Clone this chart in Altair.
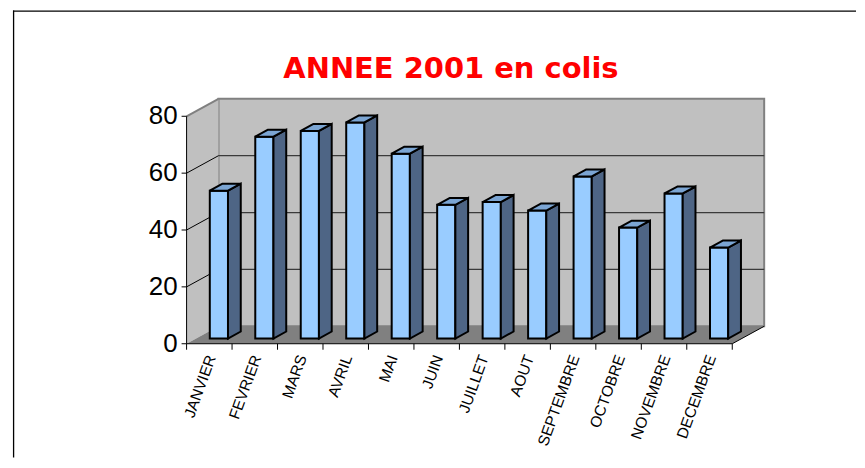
import altair as alt
import pandas as pd

# ---------------- data ----------------
months = ["JANVIER", "FEVRIER", "MARS", "AVRIL", "MAI", "JUIN", "JUILLET",
          "AOUT", "SEPTEMBRE", "OCTOBRE", "NOVEMBRE", "DECEMBRE"]
values = [52, 71, 73, 76, 65, 47, 48, 45, 57, 39, 51, 32]
y_ticks = [0, 20, 40, 60, 80]
title_text = "ANNEE 2001 en colis"

# ---------------- layout (pixel anchors -> data units) ----------------
PX_CAT = 45.58          # px per category
PX_UNIT = 2.85          # px per value unit
ORIGIN_X, ORIGIN_Y = 186, 343   # page px of front-axis origin
VIEW_LEFT, VIEW_TOP = 12, 9     # page px of view corner
W, H = 845, 448
DX = 32 / PX_CAT        # depth shift in x units
DY = 17.5 / PX_UNIT     # depth shift in y units
D0, D1 = 0.3, 0.7       # bar depth range
B0, B1 = 0.3, 0.7       # bar extent within category
NCAT = len(months)
YMAX = max(y_ticks)

xs = alt.Scale(domain=[(VIEW_LEFT - ORIGIN_X) / PX_CAT, (VIEW_LEFT + W - ORIGIN_X) / PX_CAT],
               zero=False, nice=False)
ys = alt.Scale(domain=[(ORIGIN_Y - VIEW_TOP - H) / PX_UNIT, (ORIGIN_Y - VIEW_TOP) / PX_UNIT],
               zero=False, nice=False)


def X(f):
    return alt.X(f, type="quantitative", scale=xs, axis=None)


def X2(f):
    return alt.X2(f)


def Y(f):
    return alt.Y(f, type="quantitative", scale=ys, axis=None, stack=None)


def Y2(f):
    return alt.Y2(f)


# ---------------- derived tables ----------------
bars = pd.DataFrame({"month": months, "value": values, "i": range(NCAT)})

front = bars.assign(
    x1=bars.i + B0 + D0 * DX, x2=bars.i + B1 + D0 * DX,
    y1=D0 * DY, y2=bars.value + D0 * DY)

side_rows = []
top_rows = []
for m, v, i in zip(months, values, range(NCAT)):
    for d in (D0, D1):
        side_rows.append({"month": m, "x": i + B1 + d * DX, "ylo": d * DY, "yhi": v + d * DY})
        top_rows.append({"month": m, "y": v + d * DY, "xlo": i + B0 + d * DX, "xhi": i + B1 + d * DX})
side = pd.DataFrame(side_rows)
top = pd.DataFrame(top_rows)

wall = pd.DataFrame({"x1": [DX], "x2": [NCAT + DX], "y1": [DY], "y2": [YMAX + DY]})
left_wall = pd.DataFrame({"x": [0, DX], "ylo": [0, DY], "yhi": [YMAX, YMAX + DY], "k": ["a", "a"]})
floor = pd.DataFrame({"y": [0, DY], "xlo": [0, DX], "xhi": [NCAT, NCAT + DX], "k": ["a", "a"]})

ticks = pd.DataFrame({"v": y_ticks})
grid = ticks.assign(yb=ticks.v + DY, xa=DX, xb=NCAT + DX, x0=0.0)
grid_in = grid[(grid.v > 0) & (grid.v < YMAX)]
diag = grid[grid.v > 0]

xaxis = pd.DataFrame({"x1": [0.0], "x2": [float(NCAT)], "y": [0.0]})
floor_edge = pd.DataFrame({"x1": [float(NCAT)], "x2": [NCAT + DX], "y1": [0.0], "y2": [DY]})
yaxis = pd.DataFrame({"x": [0.0], "y1": [0.0], "y2": [float(YMAX)]})
xticks = pd.DataFrame({"x": [float(k) for k in range(NCAT + 1)], "y": 0.0})
labels = bars.assign(xc=bars.i + 0.5, y=0.0)

# ---------------- layers ----------------
FONT = "Liberation Sans"

back = alt.Chart(wall).mark_rect(fill="#C0C0C0", stroke="#808080", strokeWidth=2).encode(
    x=X("x1"), x2=X2("x2"), y=Y("y1"), y2=Y2("y2"))
lwall = alt.Chart(left_wall).mark_area(orient="vertical", fill="#C0C0C0").encode(
    x=X("x"), y=Y("yhi"), y2=Y2("ylo"), detail="k:N")
flr = alt.Chart(floor).mark_area(orient="horizontal", fill="#808080").encode(
    y=Y("y"), x=X("xlo"), x2=X2("xhi"), detail="k:N")
lwall_top = alt.Chart(diag[diag.v == YMAX]).mark_rule(color="#808080", strokeWidth=2).encode(
    x=X("x0"), x2=X2("xa"), y=Y("v"), y2=Y2("yb"))
grid_back = alt.Chart(grid_in).mark_rule(color="#3a3a3a", strokeWidth=1.2).encode(
    x=X("xa"), x2=X2("xb"), y=Y("yb"))
grid_diag = alt.Chart(diag[diag.v < YMAX]).mark_rule(color="#000000", strokeWidth=1).encode(
    x=X("x0"), x2=X2("xa"), y=Y("v"), y2=Y2("yb"))

front_face = alt.Chart(front).mark_rect(fill="#99CCFF", stroke="black", strokeWidth=2).encode(
    x=X("x1"), x2=X2("x2"), y=Y("y1"), y2=Y2("y2"))
side_face = alt.Chart(side).mark_area(orient="vertical", fill="#4E6585", stroke="black",
                                      strokeWidth=2, strokeJoin="miter").encode(
    x=X("x"), y=Y("yhi"), y2=Y2("ylo"), detail="month:N")
top_face = alt.Chart(top).mark_area(orient="horizontal", fill="#7BA5D3", stroke="black",
                                    strokeWidth=2, strokeJoin="miter").encode(
    y=Y("y"), x=X("xlo"), x2=X2("xhi"), detail="month:N")

xline = alt.Chart(xaxis).mark_rule(color="black", strokeWidth=1).encode(
    x=X("x1"), x2=X2("x2"), y=Y("y"))
fedge = alt.Chart(floor_edge).mark_rule(color="black", strokeWidth=1).encode(
    x=X("x1"), x2=X2("x2"), y=Y("y1"), y2=Y2("y2"))
yline = alt.Chart(yaxis).mark_rule(color="black", strokeWidth=1).encode(
    x=X("x"), y=Y("y1"), y2=Y2("y2"))
xtick = alt.Chart(xticks).mark_rule(color="black", strokeWidth=1, y2Offset=6).encode(
    x=X("x"), y=Y("y"), y2=Y2("y"))
ytick = alt.Chart(ticks).mark_rule(color="black", strokeWidth=1, x2Offset=-5).encode(
    x=alt.X("zero:Q", scale=xs, axis=None), x2=alt.X2("zero:Q"), y=Y("v")
).transform_calculate(zero="0")
ylab = alt.Chart(ticks).mark_text(align="right", baseline="middle", font=FONT, fontSize=26,
                                  xOffset=-9, color="black").encode(
    x=alt.X("zero:Q", scale=xs, axis=None), y=Y("v"), text="v:Q"
).transform_calculate(zero="0")
xlab = alt.Chart(labels).mark_text(align="right", baseline="middle", font=FONT, fontSize=15.5,
                                   angle=290, yOffset=12, xOffset=2, color="black").encode(
    x=X("xc"), y=Y("y"), text="month:N")

title = alt.Chart(pd.DataFrame({"t": [title_text]})).mark_text(
    font="DejaVu Sans", fontWeight="bold", fontSize=29, color="#FF0000",
    align="center", baseline="alphabetic").encode(
    x=alt.value(451 - VIEW_LEFT), y=alt.value(77 - VIEW_TOP), text="t:N")

border_l = alt.Chart(pd.DataFrame({"a": [0]})).mark_rule(color="black", strokeWidth=1.3).encode(
    x=alt.value(0.6), y=alt.value(0), y2=alt.value(H))
border_t = alt.Chart(pd.DataFrame({"a": [0]})).mark_rule(color="black", strokeWidth=1.3).encode(
    y=alt.value(0.6), x=alt.value(0), x2=alt.value(W))

chart = alt.layer(
    back, lwall, flr, lwall_top, grid_back, grid_diag,
    front_face, side_face, top_face,
    xline, fedge, yline, xtick, ytick, ylab, xlab, title, border_l, border_t
).properties(
    width=W, height=H,
    padding={"left": VIEW_LEFT - 8, "top": VIEW_TOP - 8, "right": 0, "bottom": 0},
    background="white",
).configure_view(strokeWidth=0)

chart.save("out.html", embed_options={"renderer": "svg", "actions": False})
